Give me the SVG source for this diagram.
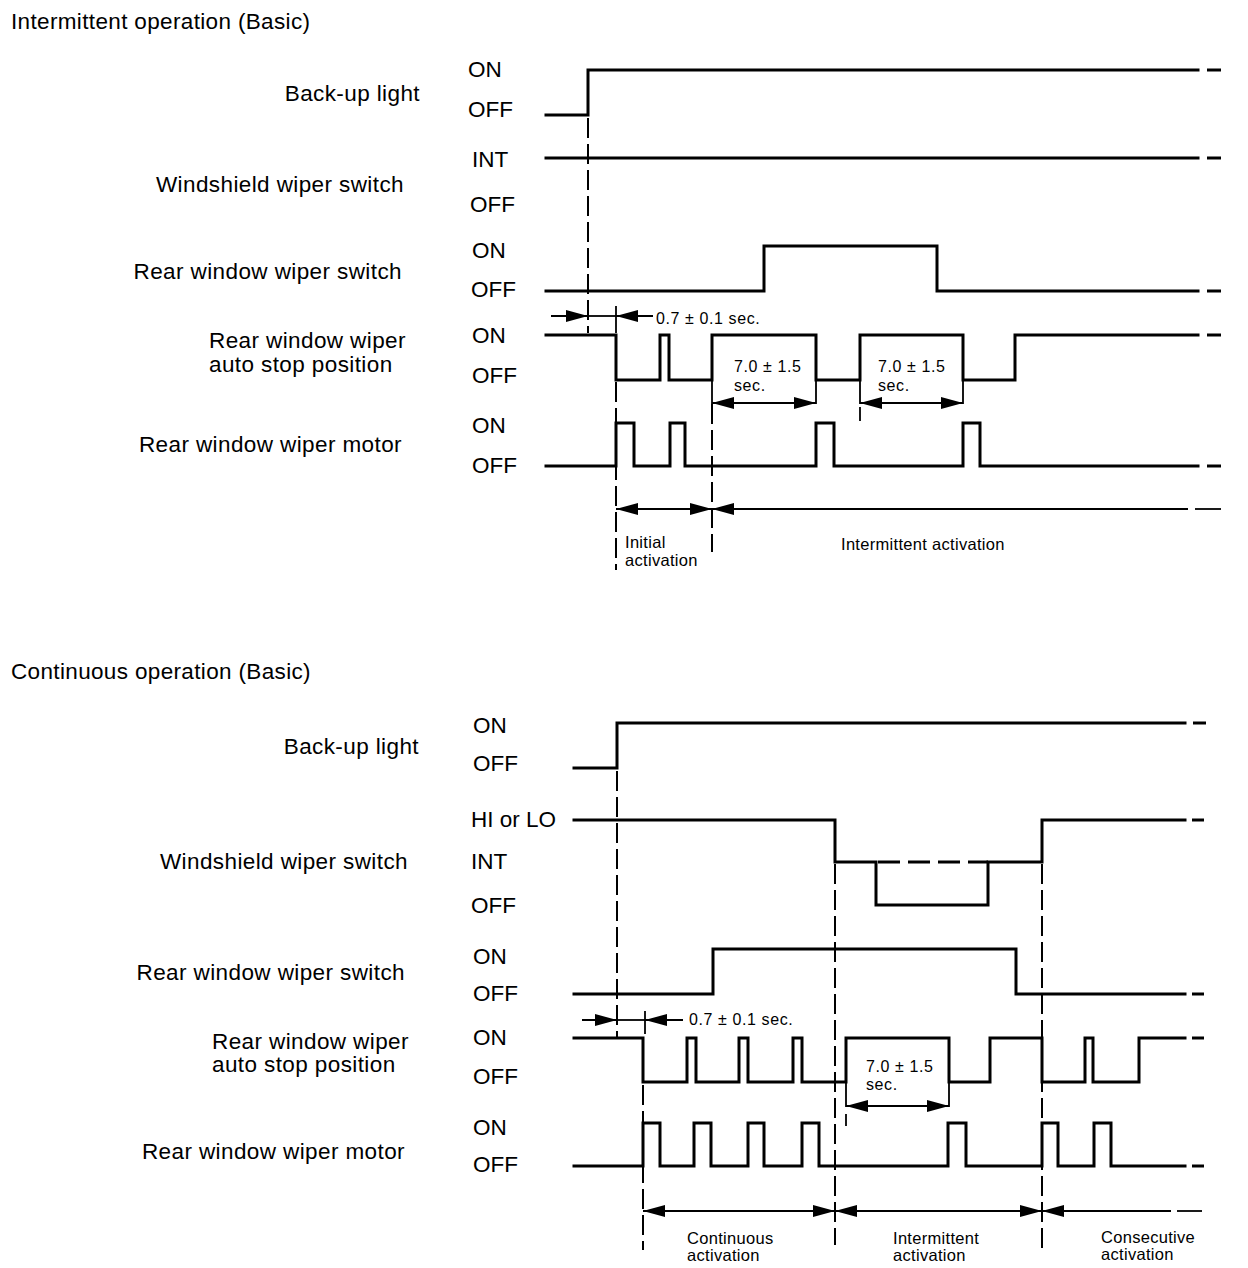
<svg xmlns="http://www.w3.org/2000/svg" width="1248" height="1268" viewBox="0 0 1248 1268">
<style>
text{font-family:"Liberation Sans",Arial,sans-serif;fill:#000}
.title{font-size:22.5px;letter-spacing:0.35px}
.lbl{font-size:22.5px;letter-spacing:0.4px}
.st{font-size:22.5px}
.small{font-size:16px;letter-spacing:0.6px}
.note{font-size:16.5px;letter-spacing:0.3px}
.sig{fill:none;stroke:#000;stroke-width:3;stroke-linejoin:miter;stroke-linecap:square}
.end{fill:none;stroke:#000;stroke-width:3}
.dv{fill:none;stroke:#000;stroke-width:2;stroke-dasharray:20 6}
.dh{fill:none;stroke:#000;stroke-width:3;stroke-dasharray:22 8}
.thin{fill:none;stroke:#000;stroke-width:1.8}
.arr{fill:none;stroke:#000;stroke-width:1.8}
</style>
<defs>
<marker id="ah" viewBox="0 0 22 12" refX="22" refY="6" markerWidth="22" markerHeight="12" markerUnits="userSpaceOnUse" orient="auto-start-reverse"><path d="M0,0 L22,6 L0,12 z" fill="#000"/></marker>
</defs>

<rect width="1248" height="1268" fill="#fff"/>

<!-- ============ Section 1 ============ -->
<text class="title" x="11" y="29">Intermittent operation (Basic)</text>

<g id="s1-backup">
<text class="lbl" x="420" y="101" text-anchor="end">Back-up light</text>
<text class="st" x="468" y="77">ON</text>
<text class="st" x="468" y="117">OFF</text>
<path class="sig" d="M546,115 H588 V70 H1198"/>
<path class="end" d="M1207,70 H1221"/>
</g>

<g id="s1-wsswitch">
<text class="lbl" x="404" y="192" text-anchor="end">Windshield wiper switch</text>
<text class="st" x="472" y="167">INT</text>
<text class="st" x="470" y="212">OFF</text>
<path class="sig" d="M546,158 H1198"/>
<path class="end" d="M1207,158 H1221"/>
</g>

<g id="s1-rwswitch">
<text class="lbl" x="402" y="279" text-anchor="end">Rear window wiper switch</text>
<text class="st" x="472" y="258">ON</text>
<text class="st" x="471" y="297">OFF</text>
<path class="sig" d="M546,291 H764 V246 H937 V291 H1198"/>
<path class="end" d="M1207,291 H1221"/>
</g>

<g id="s1-autostop">
<text class="lbl" x="209" y="348">Rear window wiper</text>
<text class="lbl" x="209" y="372">auto stop position</text>
<text class="st" x="472" y="343">ON</text>
<text class="st" x="472" y="383">OFF</text>
<path class="sig" d="M546,335 H616 V380 H660 V335 H669 V380 H712 V335 H816 V380 H860 V335 H963 V380 H1015 V335 H1198"/>
<path class="end" d="M1207,335 H1221"/>
</g>

<g id="s1-motor">
<text class="lbl" x="402" y="452" text-anchor="end">Rear window wiper motor</text>
<text class="st" x="472" y="433">ON</text>
<text class="st" x="472" y="473">OFF</text>
<path class="sig" d="M546,466 H616 V423 H634 V466 H670 V423 H685 V466 H816 V423 H834 V466 H963 V423 H980 V466 H1198"/>
<path class="end" d="M1207,466 H1221"/>
</g>

<g id="s1-notes">
<text class="small" x="656" y="324">0.7 ± 0.1 sec.</text>
<text class="small" x="734" y="372">7.0 ± 1.5</text>
<text class="small" x="734" y="391">sec.</text>
<text class="small" x="878" y="372">7.0 ± 1.5</text>
<text class="small" x="878" y="391">sec.</text>
<text class="note" x="625" y="548">Initial</text>
<text class="note" x="625" y="566">activation</text>
<text class="note" x="841" y="550">Intermittent activation</text>
</g>

<g id="s1-connectors">
<path class="dv" d="M588,118 V333"/>
<path class="thin" d="M616,306 V333"/>
<path class="dv" d="M616,382 V570"/>
<path class="thin" d="M712,380 V404 M816,380 V404 M860,380 V404 M963,380 V404"/>
<path class="dv" d="M712,404 V552"/>
<path class="thin" d="M860,407 V421"/>
<path class="arr" d="M551,316 H588" marker-end="url(#ah)"/>
<path class="arr" d="M588,316 H616"/>
<path class="arr" d="M653,316 H616" marker-end="url(#ah)"/>
<path class="arr" d="M712,403 H816" marker-start="url(#ah)" marker-end="url(#ah)"/>
<path class="arr" d="M860,403 H963" marker-start="url(#ah)" marker-end="url(#ah)"/>
<path class="arr" d="M616,509 H712" marker-start="url(#ah)" marker-end="url(#ah)"/>
<path class="arr" d="M712,509 H1188" marker-start="url(#ah)"/>
<path class="arr" d="M1195,509 H1221"/>
</g>

<!-- ============ Section 2 ============ -->
<text class="title" x="11" y="679">Continuous operation (Basic)</text>

<g id="s2-backup">
<text class="lbl" x="419" y="754" text-anchor="end">Back-up light</text>
<text class="st" x="473" y="733">ON</text>
<text class="st" x="473" y="771">OFF</text>
<path class="sig" d="M574,768 H617 V723 H1185"/>
<path class="end" d="M1193,723 H1206"/>
</g>

<g id="s2-wsswitch">
<text class="lbl" x="408" y="869" text-anchor="end">Windshield wiper switch</text>
<text class="st" x="471" y="827">HI or LO</text>
<text class="st" x="471" y="869">INT</text>
<text class="st" x="471" y="913">OFF</text>
<path class="sig" d="M574,820 H835 V862 H876 V905 H988 V862 H1042 V820 H1185"/>
<path class="dh" d="M878,862 H988"/>
<path class="end" d="M1192,820 H1204"/>
</g>

<g id="s2-rwswitch">
<text class="lbl" x="405" y="980" text-anchor="end">Rear window wiper switch</text>
<text class="st" x="473" y="964">ON</text>
<text class="st" x="473" y="1001">OFF</text>
<path class="sig" d="M574,994 H713 V949 H1016 V994 H1185"/>
<path class="end" d="M1192,994 H1204"/>
</g>

<g id="s2-autostop">
<text class="lbl" x="212" y="1049">Rear window wiper</text>
<text class="lbl" x="212" y="1072">auto stop position</text>
<text class="st" x="473" y="1045">ON</text>
<text class="st" x="473" y="1084">OFF</text>
<path class="sig" d="M574,1038 H643 V1082 H687 V1038 H696 V1082 H739 V1038 H748 V1082 H793 V1038 H802 V1082 H846 V1038 H949 V1082 H990 V1038 H1042 V1082 H1085 V1038 H1093 V1082 H1139 V1038 H1185"/>
<path class="end" d="M1192,1038 H1204"/>
</g>

<g id="s2-motor">
<text class="lbl" x="405" y="1159" text-anchor="end">Rear window wiper motor</text>
<text class="st" x="473" y="1135">ON</text>
<text class="st" x="473" y="1172">OFF</text>
<path class="sig" d="M574,1166 H643 V1123 H660 V1166 H694 V1123 H711 V1166 H748 V1123 H764 V1166 H802 V1123 H819 V1166 H948 V1123 H966 V1166 H1042 V1123 H1058 V1166 H1094 V1123 H1111 V1166 H1185"/>
<path class="end" d="M1192,1166 H1204"/>
</g>

<g id="s2-notes">
<text class="small" x="689" y="1025">0.7 ± 0.1 sec.</text>
<text class="small" x="866" y="1072">7.0 ± 1.5</text>
<text class="small" x="866" y="1090">sec.</text>
<text class="note" x="687" y="1244">Continuous</text>
<text class="note" x="687" y="1261">activation</text>
<text class="note" x="893" y="1244">Intermittent</text>
<text class="note" x="893" y="1261">activation</text>
<text class="note" x="1101" y="1243">Consecutive</text>
<text class="note" x="1101" y="1260">activation</text>
</g>

<g id="s2-connectors">
<path class="dv" d="M617,771 V1038"/>
<path class="thin" d="M645,1011 V1034"/>
<path class="dv" d="M643,1085 V1250"/>
<path class="dv" d="M835,864 V1245"/>
<path class="dv" d="M1042,864 V1248"/>
<path class="thin" d="M846,1082 V1107 M949,1082 V1107"/>
<path class="thin" d="M846,1114 V1126"/>
<path class="arr" d="M582,1020 H617" marker-end="url(#ah)"/>
<path class="arr" d="M617,1020 H645"/>
<path class="arr" d="M683,1020 H645" marker-end="url(#ah)"/>
<path class="arr" d="M846,1106 H949" marker-start="url(#ah)" marker-end="url(#ah)"/>
<path class="arr" d="M643,1211 H835" marker-start="url(#ah)" marker-end="url(#ah)"/>
<path class="arr" d="M835,1211 H1042" marker-start="url(#ah)" marker-end="url(#ah)"/>
<path class="arr" d="M1042,1211 H1171" marker-start="url(#ah)"/>
<path class="arr" d="M1177,1211 H1202"/>
</g>
</svg>
